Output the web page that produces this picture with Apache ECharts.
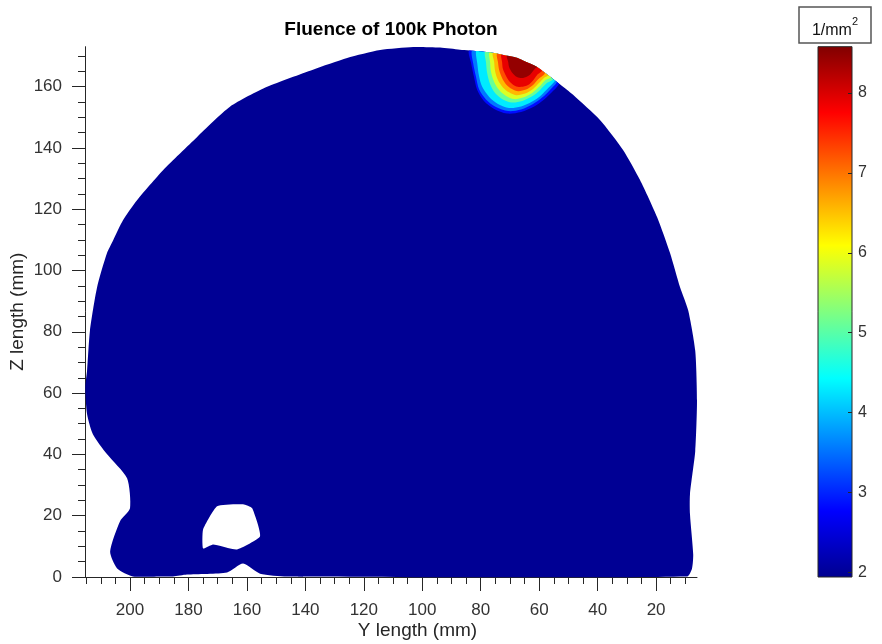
<!DOCTYPE html>
<html>
<head>
<meta charset="utf-8">
<script src="https://cdn.jsdelivr.net/npm/echarts@6/dist/echarts.min.js"></script>
<style>html,body{margin:0;padding:0;background:#fff}#c{width:882px;height:644px}</style>
</head>
<body>
<div id="c"></div>
<script>
// ---- axis ranges and ticks ----
const yLenRange = [6, 215.4];          // horizontal axis "Y length (mm)" (reversed)
const zLenRange = [0, 173];            // vertical axis "Z length (mm)"
const colorRange = [1.94, 8.58];       // fluence colour scale (1/mm^2)
const yLenTicksMajor = [20, 40, 60, 80, 100, 120, 140, 160, 180, 200];
const yLenTicksMinor = [10, 15, 25, 30, 35, 45, 50, 55, 65, 70, 75, 85, 90, 95, 105, 110, 115, 125, 130, 135, 145, 150, 155, 165, 170, 175, 185, 190, 195, 205, 210, 215];
const zLenTicksMajor = [0, 20, 40, 60, 80, 100, 120, 140, 160];
const zLenTicksMinor = [5, 10, 15, 25, 30, 35, 45, 50, 55, 65, 70, 75, 85, 90, 95, 105, 110, 115, 125, 130, 135, 145, 150, 155, 165, 170];
const colorTicks = [2, 3, 4, 5, 6, 7, 8];
const jetColors = ['#00008F', '#0000FF', '#0080FF', '#00FFFF', '#80FF80', '#FFFF00', '#FF8000', '#FF0000', '#800000'];

// ---- head outline (Y, Z) in mm; base fluence level ----
const baseLevel = 1.98;
const headOutline = [
  [199.0,0.2],[204.4,2.8],[206.8,8.3],[203.4,18.2],[200.0,22.4],[201.0,32.2],[207.9,40.1],[212.7,46.6],
  [214.7,53.2],[215.3,61.7],[214.7,67.3],[213.7,80.4],[211.3,94.4],[207.9,105.6],[205.8,109.8],[202.4,116.4],
  [197.6,122.9],[188.7,132.7],[177.1,143.5],[165.8,153.4],[153.1,159.9],[137.4,165.5],[125.7,169.3],[114.4,171.9],
  [103.1,172.9],[93.9,172.7],[87.1,172.0],[80.2,171.5],[75.8,171.0],[71.7,170.2],[67.6,169.4],[64.1,167.9],
  [60.7,166.4],[58.0,164.5],[55.2,162.5],[52.8,160.7],[50.4,158.9],[48.4,157.3],[39.2,149.1],[31.3,139.3],
  [25.5,129.5],[19.6,117.3],[15.2,105.6],[11.8,94.5],[9.0,86.9],[6.6,73.8],[6.0,57.5],[6.6,41.1],
  [8.4,27.0],[8.4,20.5],[7.3,7.4],[7.7,2.8],[9.4,0.2],[146.3,0.2],[155.5,1.1],[161.3,4.4],
  [166.8,1.5],[180.5,0.8],[185.3,0.2],[189.7,0.2]
];
const headHole = [[170.2,23.1],[161.3,23.7],[158.2,22.4],[155.5,13.3],[163.4,9.0],[171.6,10.6],[175.0,9.3],[175.0,15.5]];

// ---- hot-spot filled contour bands: band value and lower boundary (ends on the outline) ----
const hotspotBands = [2.85, 3.55, 4.3, 5.1, 5.85, 6.55, 7.25, 7.9, 8.45];
const hotspotContours = [
  [[84.0,171.7],[83.3,167.7],[82.3,163.1],[81.2,158.9],[78.9,155.3],[75.4,152.7],[71.0,151.2],[66.2,151.7],[61.7,153.5],[58.3,155.8],[55.6,158.2],[53.2,160.9]],
  [[83.0,171.6],[82.6,167.7],[81.6,163.1],[80.6,159.2],[78.2,155.8],[74.8,153.3],[70.6,152.0],[66.2,152.5],[62.1,154.3],[59.0,156.4],[56.3,158.9],[53.9,161.5]],
  [[81.6,171.5],[81.2,167.7],[80.6,163.5],[79.5,159.9],[77.1,156.6],[74.1,154.3],[70.3,153.0],[66.2,153.5],[62.4,155.1],[59.3,157.2],[56.9,159.5],[54.5,162.0]],
  [[78.5,171.3],[78.2,168.0],[77.8,164.4],[76.8,160.8],[75.1,157.9],[72.4,155.8],[69.3,154.8],[65.8,155.3],[62.4,156.8],[59.7,158.9],[57.3,161.2],[55.2,162.5]],
  [[77.1,171.1],[76.8,168.0],[76.5,164.8],[75.4,161.5],[73.7,158.9],[71.3,156.9],[68.6,155.9],[65.5,156.4],[62.4,157.9],[60.0,159.9],[58.0,162.0],[55.9,163.0]],
  [[75.8,171.0],[75.4,168.0],[75.1,165.1],[74.1,162.1],[72.4,159.7],[70.3,158.1],[67.9,157.2],[64.8,157.7],[62.1,159.2],[60.0,161.2],[58.3,162.9],[56.9,163.6]],
  [[74.4,170.8],[74.1,168.0],[73.7,165.4],[72.7,162.8],[71.3,160.7],[69.3,159.2],[67.2,158.5],[64.5,159.0],[62.1,160.5],[60.4,162.3],[58.0,164.4]],
  [[73.0,170.6],[72.7,168.0],[72.4,165.7],[71.3,163.4],[70.0,161.5],[68.2,160.2],[66.2,159.9],[63.8,160.5],[62.1,162.0],[60.7,163.8],[59.0,165.0]],
  [[71.0,170.3],[70.6,168.0],[70.3,166.4],[69.3,164.6],[67.6,163.1],[65.5,162.8],[63.5,163.6],[62.1,165.1],[61.4,165.9],[60.7,166.4]]
];

// close each contour band along the top of the head outline
function outlineTopZ(y) {
  for (let i = 0; i < headOutline.length - 1; i++) {
    const a = headOutline[i], b = headOutline[i + 1];
    if (a[1] < 140 || b[1] < 140) continue;
    const lo = Math.min(a[0], b[0]), hi = Math.max(a[0], b[0]);
    if (y >= lo && y <= hi && hi > lo) {
      const t = (y - a[0]) / (b[0] - a[0]);
      return a[1] + t * (b[1] - a[1]);
    }
  }
  return null;
}
function closeAgainstOutline(c) {
  const pts = c.map(p => p.slice());
  const first = pts[0], last = pts[pts.length - 1];
  const zf = outlineTopZ(first[0]), zl = outlineTopZ(last[0]);
  if (zf !== null) first[1] = zf;
  if (zl !== null) last[1] = zl;
  const top = headOutline.filter(p => p[1] > 140 && p[0] < first[0] && p[0] > last[0])
    .sort((a, b) => a[0] - b[0]);
  return pts.concat(top);
}
const closedHotspots = hotspotContours.map(closeAgainstOutline);

const FONT = '"Liberation Sans", Arial, Helvetica, sans-serif';
const AX = '#262626';
const OUTLINE_SMOOTH = 0.22;

const fieldData = [[baseLevel, -1]].concat(hotspotBands.map((v, i) => [v, i]));

const chart = echarts.init(document.getElementById('c'));
const option = {
  animation: false,
  backgroundColor: '#ffffff',
  grid: [
    { left: 85, right: 185, top: 46.7, bottom: 67, outerBoundsMode: 'none' },
    { left: 818, width: 34, top: 46.7, bottom: 67, outerBoundsMode: 'none' }
  ],
  xAxis: [
    { gridIndex: 0, type: 'value', inverse: true, min: yLenRange[0], max: yLenRange[1], position: 'bottom',
      axisLine: { show: true, onZero: false, lineStyle: { color: AX, width: 1 } },
      axisTick: { show: true, inside: false, length: 14, customValues: yLenTicksMajor, lineStyle: { color: AX } },
      axisLabel: { customValues: yLenTicksMajor, margin: 25, fontSize: 17, color: '#333', fontFamily: FONT },
      splitLine: { show: false } },
    { gridIndex: 0, type: 'value', inverse: true, min: yLenRange[0], max: yLenRange[1], position: 'bottom',
      axisLine: { show: false, onZero: false },
      axisTick: { show: true, inside: false, length: 7, customValues: yLenTicksMinor, lineStyle: { color: AX } },
      axisLabel: { show: false }, splitLine: { show: false } },
    { gridIndex: 1, type: 'value', min: 0, max: 1, show: false, axisLine: { onZero: false } }
  ],
  yAxis: [
    { gridIndex: 0, type: 'value', min: zLenRange[0], max: zLenRange[1], position: 'left',
      axisLine: { show: true, onZero: false, lineStyle: { color: AX, width: 1 } },
      axisTick: { show: true, inside: false, length: 13, customValues: zLenTicksMajor, lineStyle: { color: AX } },
      axisLabel: { customValues: zLenTicksMajor, margin: 23, fontSize: 17, color: '#333', fontFamily: FONT },
      splitLine: { show: false } },
    { gridIndex: 0, type: 'value', min: zLenRange[0], max: zLenRange[1], position: 'left',
      axisLine: { show: false, onZero: false },
      axisTick: { show: true, inside: false, length: 7, customValues: zLenTicksMinor, lineStyle: { color: AX } },
      axisLabel: { show: false }, splitLine: { show: false } },
    { gridIndex: 1, type: 'value', min: colorRange[0], max: colorRange[1], position: 'right', z: 10,
      axisLine: { show: false, onZero: false },
      axisTick: { show: true, inside: true, length: 4, customValues: colorTicks, lineStyle: { color: AX } },
      axisLabel: { customValues: colorTicks, margin: 6, fontSize: 16, color: '#333', fontFamily: FONT },
      splitLine: { show: false } }
  ],
  visualMap: {
    type: 'continuous', show: false, min: colorRange[0], max: colorRange[1],
    dimension: 0, seriesIndex: 0, inRange: { color: jetColors }
  },
  series: [
    { type: 'custom', xAxisIndex: 0, yAxisIndex: 0, data: fieldData, z: 2,
      renderItem: function (params, api) {
        const id = api.value(1);
        const outlinePts = headOutline.map(p => api.coord(p));
        if (id < 0) {
          return { type: 'polygon', shape: { points: outlinePts, smooth: OUTLINE_SMOOTH },
            style: { fill: api.visual('color'), stroke: null } };
        }
        const pts = closedHotspots[id].map(p => api.coord(p));
        return { type: 'polygon', shape: { points: pts, smooth: 0.3 },
          style: { fill: api.visual('color'), stroke: null },
          clipPath: { type: 'polygon', shape: { points: outlinePts, smooth: OUTLINE_SMOOTH } } };
      } },
    { type: 'custom', xAxisIndex: 0, yAxisIndex: 0, data: [[0, 0]], z: 3,
      renderItem: function (params, api) {
        const pts = headHole.map(p => api.coord(p));
        return { type: 'polygon', shape: { points: pts, smooth: 0.15 }, style: { fill: '#ffffff', stroke: null } };
      } },
    { type: 'custom', xAxisIndex: 2, yAxisIndex: 2, data: [[0, colorRange[0]]], z: 2,
      renderItem: function (params, api) {
        const p0 = api.coord([0, colorRange[1]]);
        const p1 = api.coord([1, colorRange[0]]);
        const n = jetColors.length;
        const stops = jetColors.map((c, i) => ({ offset: 1 - i / (n - 1), color: c })).reverse();
        return { type: 'rect',
          shape: { x: p0[0], y: p0[1], width: p1[0] - p0[0], height: p1[1] - p0[1] },
          style: { fill: { type: 'linear', x: 0, y: 0, x2: 0, y2: 1, colorStops: stops },
                   stroke: AX, lineWidth: 1 } };
      } }
  ],
  graphic: [
    { type: 'text', x: 391, y: 30, z: 10,
      style: { text: 'Fluence of 100k Photon', font: 'bold 19px ' + FONT, fill: '#000', align: 'center', verticalAlign: 'middle' } },
    { type: 'text', x: 417.5, y: 631, z: 10,
      style: { text: 'Y length (mm)', font: '19px ' + FONT, fill: '#262626', align: 'center', verticalAlign: 'middle' } },
    { type: 'text', x: 18, y: 311.7, rotation: Math.PI / 2, z: 10,
      style: { text: 'Z length (mm)', font: '19px ' + FONT, fill: '#262626', align: 'center', verticalAlign: 'middle' } },
    { type: 'rect', z: 10, shape: { x: 799, y: 7, width: 72, height: 36 },
      style: { fill: '#fff', stroke: '#555', lineWidth: 1.5 } },
    { type: 'text', x: 835, y: 27.5, z: 11,
      style: { text: '{a|1/mm}{s|2}', align: 'center', verticalAlign: 'middle', fill: '#111',
        rich: { a: { fontSize: 16, lineHeight: 22, fontFamily: FONT, fill: '#111', verticalAlign: 'bottom' },
                s: { fontSize: 11, lineHeight: 7, fontFamily: FONT, fill: '#111', verticalAlign: 'top' } } } }
  ]
};
chart.setOption(option);
</script>
</body>
</html>
